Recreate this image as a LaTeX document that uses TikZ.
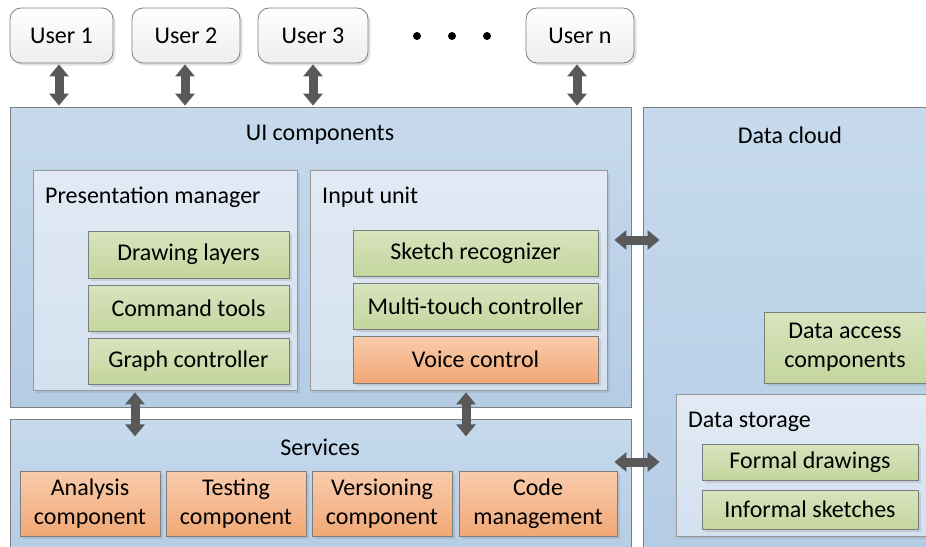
\documentclass[tikz,border=0pt]{standalone}
\usepackage{fontspec}
\setmainfont{Carlito}
\usetikzlibrary{arrows.meta,shadows}

\definecolor{edge}{RGB}{125,125,125}
\definecolor{arrowgray}{RGB}{89,89,89}

\begin{document}
\begin{tikzpicture}[x=1pt,y=-1pt,
  font=\fontsize{24}{29}\selectfont,
  shade/.style={drop shadow={opacity=0.22,shadow xshift=2.5pt,shadow yshift=-2.5pt}},
  user/.style={draw=edge, line width=0.8pt, rounded corners=11pt, top color=white, bottom color=black!7, shade, inner sep=0pt},
  layer/.style={draw=edge, line width=0.8pt, top color={rgb,255:red,199;green,218;blue,237}, bottom color={rgb,255:red,180;green,204;blue,228}, inner sep=0pt},
  panel/.style={draw=edge!80, line width=0.8pt, top color={rgb,255:red,225;green,234;blue,244}, bottom color={rgb,255:red,212;green,225;blue,239}, shade, inner sep=0pt},
  greenbox/.style={draw=edge, line width=0.8pt, top color={rgb,255:red,216;green,228;blue,190}, bottom color={rgb,255:red,196;green,213;blue,158}, shade, inner sep=0pt, align=center},
  orangebox/.style={draw=edge, line width=0.8pt, top color={rgb,255:red,249;green,204;blue,172}, bottom color={rgb,255:red,241;green,168;blue,118}, shade, inner sep=0pt, align=center},
  link/.style={draw=arrowgray, line width=9pt, {Triangle[width=19pt,length=12pt]}-{Triangle[width=19pt,length=12pt]}}
]
\useasboundingbox (0,0) rectangle (926,546);

% users
\node[user, minimum width=103pt, minimum height=55pt] (u1) at (61.5,35.5){User 1};
\node[user, minimum width=108pt, minimum height=55pt] (u2) at (186,35.5){User 2};
\node[user, minimum width=110pt, minimum height=55pt] (u3) at (313,35.5){User 3};
\node[user, minimum width=108pt, minimum height=55pt] (un) at (580,35.5){User n};
\foreach \x in {417,452,487} \fill (\x,36) circle (4);

% big layers
\node[layer, minimum width=621pt, minimum height=300pt] (ui) at (320.5,257){};
\node[layer, minimum width=621pt, minimum height=137pt] (services) at (320.5,487.5){};
\node[layer, minimum width=293pt, minimum height=449pt] (cloud) at (789.5,331.5){};
\node (uititle) at (320,135){UI components};
\node (svtitle) at (320,447){Services};
\node (cltitle) at (790,135){Data cloud};

% presentation manager
\node[panel, minimum width=264pt, minimum height=220pt] (pm) at (165,280){};
\node[anchor=west, inner sep=0pt] (pmtitle) at (45,197){Presentation manager};
\node[greenbox, minimum width=201pt, minimum height=47pt] (layers) at (188.5,254.5){Drawing layers};
\node[greenbox, minimum width=201pt, minimum height=46pt] (tools) at (188.5,308){Command tools};
\node[greenbox, minimum width=201pt, minimum height=46pt] (graph) at (188.5,361){Graph controller};

% input unit
\node[panel, minimum width=297pt, minimum height=220pt] (input) at (458.5,280){};
\node[anchor=west, inner sep=0pt] (intitle) at (322,197){Input unit};
\node[greenbox, minimum width=245pt, minimum height=46pt] (sketch) at (475.5,253){Sketch recognizer};
\node[greenbox, minimum width=245pt, minimum height=46pt] (touch) at (475.5,306){Multi-touch controller};
\node[orangebox, minimum width=245pt, minimum height=47pt] (voice) at (475.5,359.5){Voice control};

% services
\node[orangebox, minimum width=140pt, minimum height=65pt] (analysis) at (90,503.5){Analysis\\component};
\node[orangebox, minimum width=140pt, minimum height=65pt] (testing) at (236,503.5){Testing\\component};
\node[orangebox, minimum width=140pt, minimum height=65pt] (versioning) at (382,503.5){Versioning\\component};
\node[orangebox, minimum width=158pt, minimum height=65pt] (code) at (538,503.5){Code\\management};

% data cloud
\node[greenbox, minimum width=162pt, minimum height=71pt] (access) at (845,347.5){Data access\\components};
\node[panel, minimum width=264pt, minimum height=142pt] (storage) at (808,465){};
\node[anchor=west, inner sep=0pt] (sttitle) at (688,422){Data storage};
\node[greenbox, minimum width=216pt, minimum height=36pt] (formal) at (810,462){Formal drawings};
\node[greenbox, minimum width=216pt, minimum height=39pt] (informal) at (810,509.5){Informal sketches};

% links
\draw[link] ([xshift=-2.5pt,yshift=-1pt]u1.south) -- ([xshift=-2.5pt,yshift=1pt]u1.south |- ui.north);
\draw[link] ([xshift=-1pt,yshift=-1pt]u2.south) -- ([xshift=-1pt,yshift=1pt]u2.south |- ui.north);
\draw[link] ([yshift=-1pt]u3.south) -- ([yshift=1pt]u3.south |- ui.north);
\draw[link] ([xshift=-3pt,yshift=-1pt]un.south) -- ([xshift=-3pt,yshift=1pt]un.south |- ui.north);
\draw[link] ([xshift=-30pt,yshift=-2pt]pm.south) -- ++(0,44);
\draw[link] ([xshift=7.5pt,yshift=-2pt]input.south) -- ++(0,44);
\coordinate (uilink) at ([shift={(-17,-17)}]ui.east);
\draw[link] (uilink) -- ([xshift=17pt]uilink -| cloud.west);
\coordinate (svlink) at ([shift={(-17,-25.5)}]services.east);
\draw[link] (svlink) -- ([xshift=17pt]svlink -| cloud.west);
\end{tikzpicture}
\end{document}
